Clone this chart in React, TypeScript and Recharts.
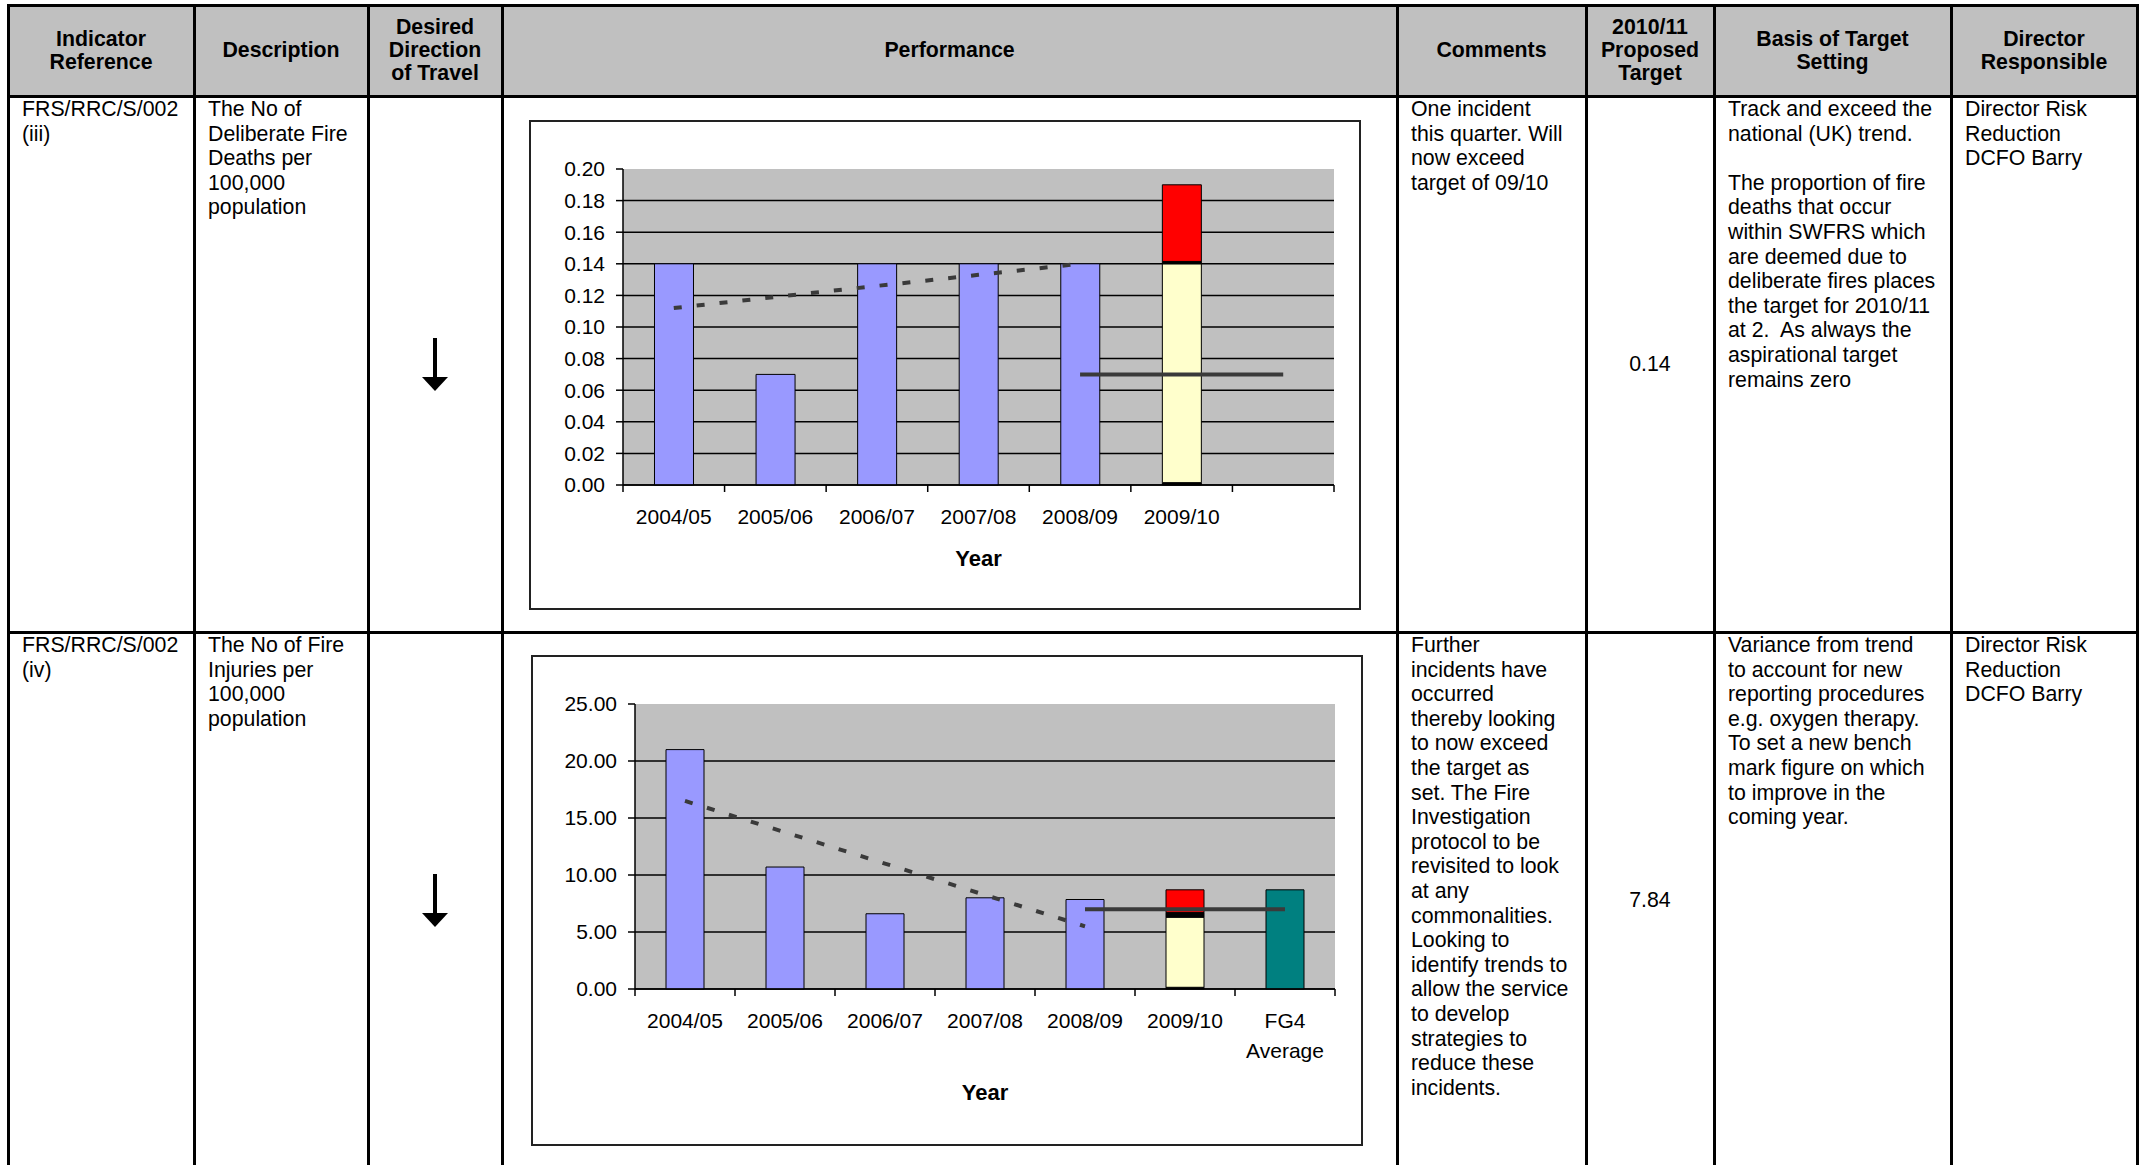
import React from "react";
import {
  Bar,
  CartesianGrid,
  ComposedChart,
  Line,
  ReferenceArea,
  XAxis,
  YAxis,
} from "recharts";

const FONT = '"Liberation Sans", Arial, Helvetica, sans-serif';

// --- chart 1: deliberate fire deaths per 100,000 ---
const DEATH_YEARS = ["2004/05", "2005/06", "2006/07", "2007/08", "2008/09", "2009/10", ""];
const DEATH_ACTUAL = [0.14, 0.07, 0.14, 0.14, 0.14, null, null];
const DEATH_BASE = [null, null, null, null, null, 0.0015, null];
const DEATH_YTD = [null, null, null, null, null, 0.1385, null];
const DEATH_MARK = [null, null, null, null, null, 0.0015, null];
const DEATH_OVER = [null, null, null, null, null, 0.0485, null];
const DEATH_AVG = [null, null, null, null, null, null, null];
const DEATH_TREND = [0.112, 0.119, 0.126, 0.133, 0.14, null, null];
const DEATH_TARGET = [null, null, null, null, 0.07, 0.07, 0.07];
const DEATH_TICKS = [0, 0.02, 0.04, 0.06, 0.08, 0.1, 0.12, 0.14, 0.16, 0.18, 0.2];

// --- chart 2: fire injuries per 100,000 ---
const INJURY_YEARS = ["2004/05", "2005/06", "2006/07", "2007/08", "2008/09", "2009/10", "FG4\nAverage"];
const INJURY_ACTUAL = [21.0, 10.7, 6.6, 8.0, 7.85, null, null];
const INJURY_BASE = [null, null, null, null, null, 0.15, null];
const INJURY_YTD = [null, null, null, null, null, 6.15, null];
const INJURY_MARK = [null, null, null, null, null, 0.4, null];
const INJURY_OVER = [null, null, null, null, null, 2.0, null];
const INJURY_AVG = [null, null, null, null, null, null, 8.7];
const INJURY_TREND = [16.5, 13.75, 11.0, 8.25, 5.5, null, null];
const INJURY_TARGET = [null, null, null, null, 7.0, 7.0, 7.0];
const INJURY_TICKS = [0, 5, 10, 15, 20, 25];

const HEADERS = [
  "Indicator\nReference",
  "Description",
  "Desired\nDirection\nof Travel",
  "Performance",
  "Comments",
  "2010/11\nProposed\nTarget",
  "Basis of Target\nSetting",
  "Director\nResponsible",
];

const ROW1_TEXT = [
  "FRS/RRC/S/002\n(iii)",
  "The No of\nDeliberate Fire\nDeaths per\n100,000\npopulation",
  "",
  "",
  "One incident\nthis quarter. Will\nnow exceed\ntarget of 09/10",
  "",
  "Track and exceed the\nnational (UK) trend.\n\nThe proportion of fire\ndeaths that occur\nwithin SWFRS which\nare deemed due to\ndeliberate fires places\nthe target for 2010/11\nat 2.  As always the\naspirational target\nremains zero",
  "Director Risk\nReduction\nDCFO Barry",
];
const ROW1_TARGET = "0.14";

const ROW2_TEXT = [
  "FRS/RRC/S/002\n(iv)",
  "The No of Fire\nInjuries per\n100,000\npopulation",
  "",
  "",
  "Further\nincidents have\noccurred\nthereby looking\nto now exceed\nthe target as\nset. The Fire\nInvestigation\nprotocol to be\nrevisited to look\nat any\ncommonalities.\nLooking to\nidentify trends to\nallow the service\nto develop\nstrategies to\nreduce these\nincidents.",
  "",
  "Variance from trend\nto account for new\nreporting procedures\ne.g. oxygen therapy.\nTo set a new bench\nmark figure on which\nto improve in the\ncoming year.",
  "Director Risk\nReduction\nDCFO Barry",
];
const ROW2_TARGET = "7.84";

const COL_X = [8, 194, 368, 502, 1397, 1586, 1714, 1951, 2137];
const ROW_Y = [5, 96, 632, 1168];

const CHART_W = 828;
const CHART_H = 486;

function buildRows(
  cats: string[],
  actual: (number | null)[],
  base: (number | null)[],
  ytd: (number | null)[],
  mark: (number | null)[],
  over: (number | null)[],
  avg: (number | null)[],
  trend: (number | null)[],
  target: (number | null)[]
) {
  return cats.map((cat, i) => ({
    cat,
    actual: actual[i],
    base: base[i],
    ytd: ytd[i],
    mark: mark[i],
    over: over[i],
    avg: avg[i],
    trend: trend[i],
    target: target[i],
  }));
}

// category label centred in the band, with Excel-style tick marks on the band edges
function SlotTick(props: any) {
  const { x, y, payload, band, last, lineGap } = props;
  const idx = props.index ?? payload.index;
  const half = band / 2;
  const lines = String(payload.value ?? "").split("\n");
  return (
    <g>
      <line x1={x - half} x2={x - half} y1={y} y2={y + 7} stroke="#000" strokeWidth={1.5} />
      {idx === last && <line x1={x + half} x2={x + half} y1={y} y2={y + 7} stroke="#000" strokeWidth={1.5} />}
      <text x={x} y={y + 39} textAnchor="middle" fontSize={21} fill="#000" fontFamily={FONT}>
        {lines.map((t: string, i: number) => (
          <tspan key={i} x={x} dy={i ? lineGap : 0}>
            {t}
          </tspan>
        ))}
      </text>
    </g>
  );
}

function PerfChart({
  cats,
  rows,
  yTicks,
  yWidth,
  right,
  axisHeight,
  bottom,
}: {
  cats: string[];
  rows: any[];
  yTicks: number[];
  yWidth: number;
  right: number;
  axisHeight: number;
  bottom: number;
}) {
  const n = cats.length;
  const band = (CHART_W - yWidth - right) / n;
  const yMax = yTicks[yTicks.length - 1];

  return (
    <ComposedChart
      width={CHART_W}
      height={CHART_H}
      data={rows}
      margin={{ top: 47, right, left: 0, bottom }}
      barCategoryGap="31%"
      style={{ fontFamily: FONT }}
    >
      <CartesianGrid
        vertical={false}
        fill="#C0C0C0"
        fillOpacity={1}
        stroke="#000"
        strokeWidth={1.5}
        horizontalValues={yTicks.slice(0, -1)}
      />
      <ReferenceArea fill="none" stroke="#8a8a8a" strokeWidth={1.5} ifOverflow="visible" />
      <XAxis
        dataKey="cat"
        interval={0}
        height={axisHeight}
        tickLine={false}
        tickSize={0}
        tickMargin={0}
        axisLine={{ stroke: "#000", strokeWidth: 1.5 }}
        tick={(p: any) => <SlotTick {...p} band={band} last={n - 1} lineGap={30} />}
        label={{
          value: "Year",
          position: "insideBottom",
          offset: 19,
          fill: "#000",
          fontSize: 22,
          fontWeight: 700,
        }}
      />
      <YAxis
        type="number"
        domain={[0, yMax]}
        ticks={yTicks}
        interval={0}
        width={yWidth}
        tickSize={7}
        tickMargin={11}
        tickFormatter={(v: number) => v.toFixed(2)}
        tick={{ fill: "#000", fontSize: 21 }}
        axisLine={{ stroke: "#000", strokeWidth: 1.5 }}
        tickLine={{ stroke: "#000", strokeWidth: 1.5 }}
      />
      <Bar dataKey="actual" stackId="s" fill="#9999FF" stroke="#000" strokeWidth={1} isAnimationActive={false} />
      <Bar dataKey="base" stackId="s" fill="#000" stroke="#000" strokeWidth={1} isAnimationActive={false} />
      <Bar dataKey="ytd" stackId="s" fill="#FFFFCC" stroke="#000" strokeWidth={1} isAnimationActive={false} />
      <Bar dataKey="mark" stackId="s" fill="#000" stroke="#000" strokeWidth={1} isAnimationActive={false} />
      <Bar dataKey="over" stackId="s" fill="#FF0000" stroke="#000" strokeWidth={1} isAnimationActive={false} />
      <Bar dataKey="avg" stackId="s" fill="#008080" stroke="#000" strokeWidth={1} isAnimationActive={false} />
      <Line
        dataKey="trend"
        type="linear"
        stroke="#3a3a3a"
        strokeWidth={4}
        strokeDasharray="8 15"
        dot={false}
        activeDot={false}
        isAnimationActive={false}
      />
      <Line
        dataKey="target"
        type="linear"
        stroke="#3a3a3a"
        strokeWidth={4}
        dot={false}
        activeDot={false}
        isAnimationActive={false}
      />
    </ComposedChart>
  );
}

function DownArrow({ cx, cy }: { cx: number; cy: number }) {
  return (
    <svg width={26} height={53} style={{ position: "absolute", left: cx - 13, top: cy - 26.5 }}>
      <rect x={11} y={0} width={4} height={41} fill="#000" />
      <polygon points="0,39 26,39 13,53" fill="#000" />
    </svg>
  );
}

const textStyle: React.CSSProperties = {
  position: "absolute",
  whiteSpace: "pre",
  fontSize: 21.3,
  lineHeight: "24.6px",
  color: "#000",
};

function BodyRow({ top, bottom, texts, target }: { top: number; bottom: number; texts: string[]; target: string }) {
  const mid = (top + bottom) / 2;
  return (
    <>
      {texts.map((t, i) =>
        t ? (
          <div key={i} style={{ ...textStyle, left: COL_X[i] + 14, top: top + 1 }}>
            {t}
          </div>
        ) : null
      )}
      <div
        style={{
          ...textStyle,
          left: COL_X[5],
          width: COL_X[6] - COL_X[5],
          top: mid - 12.3,
          textAlign: "center",
        }}
      >
        {target}
      </div>
      <DownArrow cx={(COL_X[2] + COL_X[3]) / 2} cy={mid} />
    </>
  );
}

export default function App() {
  const deathRows = buildRows(
    DEATH_YEARS, DEATH_ACTUAL, DEATH_BASE, DEATH_YTD, DEATH_MARK, DEATH_OVER, DEATH_AVG, DEATH_TREND, DEATH_TARGET
  );
  const injuryRows = buildRows(
    INJURY_YEARS, INJURY_ACTUAL, INJURY_BASE, INJURY_YTD, INJURY_MARK, INJURY_OVER, INJURY_AVG, INJURY_TREND, INJURY_TARGET
  );

  return (
    <div
      style={{
        position: "fixed",
        left: 0,
        top: 0,
        width: 2145,
        height: 1165,
        overflow: "hidden",
        background: "#fff",
        fontFamily: FONT,
      }}
    >
      {/* header band */}
      <div
        style={{
          position: "absolute",
          left: COL_X[0],
          top: ROW_Y[0],
          width: COL_X[8] - COL_X[0],
          height: ROW_Y[1] - ROW_Y[0],
          background: "#C0C0C0",
        }}
      />
      {HEADERS.map((h, i) => (
        <div
          key={i}
          style={{
            position: "absolute",
            left: COL_X[i],
            top: ROW_Y[0],
            width: COL_X[i + 1] - COL_X[i],
            height: ROW_Y[1] - ROW_Y[0],
            display: "flex",
            alignItems: "center",
            justifyContent: "center",
            textAlign: "center",
            whiteSpace: "pre",
            fontWeight: 700,
            fontSize: 21.3,
            lineHeight: "23px",
          }}
        >
          {h}
        </div>
      ))}

      <BodyRow top={ROW_Y[1]} bottom={ROW_Y[2]} texts={ROW1_TEXT} target={ROW1_TARGET} />
      <BodyRow top={ROW_Y[2]} bottom={ROW_Y[3]} texts={ROW2_TEXT} target={ROW2_TARGET} />

      {/* chart boxes */}
      <div style={{ position: "absolute", left: 529, top: 120, width: CHART_W, height: CHART_H, border: "2px solid #222" }}>
        <PerfChart cats={DEATH_YEARS} rows={deathRows} yTicks={DEATH_TICKS} yWidth={92} right={25} axisHeight={100} bottom={23} />
      </div>
      <div style={{ position: "absolute", left: 531, top: 655, width: CHART_W, height: CHART_H + 1, border: "2px solid #222" }}>
        <PerfChart cats={INJURY_YEARS} rows={injuryRows} yTicks={INJURY_TICKS} yWidth={102} right={26} axisHeight={130} bottom={24} />
      </div>

      {/* table rules */}
      {COL_X.map((x, i) => (
        <div
          key={"v" + i}
          style={{ position: "absolute", left: x - 1.5, top: ROW_Y[0] - 1.5, width: 3, height: ROW_Y[3] - ROW_Y[0] + 3, background: "#000" }}
        />
      ))}
      {ROW_Y.map((y, i) => (
        <div
          key={"h" + i}
          style={{ position: "absolute", left: COL_X[0] - 1.5, top: y - 1.5, width: COL_X[8] - COL_X[0] + 3, height: 3, background: "#000" }}
        />
      ))}
    </div>
  );
}
